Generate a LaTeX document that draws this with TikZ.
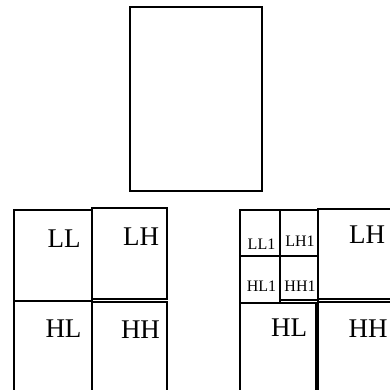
\documentclass[tikz,border=0pt]{standalone}
\usepackage{fontspec}
\setmainfont{Liberation Serif}
\begin{document}
\begin{tikzpicture}[x=1pt,y=-1pt,
  blk/.style={draw=black,line width=1.8pt},
  big/.style={font=\fontsize{27}{27}\selectfont,inner sep=0pt},
  small/.style={font=\fontsize{16}{16}\selectfont,inner sep=0pt}]
\clip (0,0) rectangle (390,389);
\fill[white] (0,0) rectangle (390,389);
% top image
\draw[blk] (130,7) rectangle (262,191);
% left decomposition
\draw[blk] (14,210) rectangle (92,301);
\draw[blk] (92,208) rectangle (167,299);
\draw[blk] (14,301) rectangle (92,400);
\draw[blk] (92,302) rectangle (167,400);
\node[big] (ll) at (64,239) {LL};
\node[big] (lh) at (141,237) {LH};
\node[big] (hl) at (63.5,329) {HL};
\node[big] (hh) at (140.5,330) {HH};
% right decomposition
\draw[blk] (240,210) rectangle (280,256);
\draw[blk] (280,210) rectangle (318,256);
\draw[blk] (240,256) rectangle (280,303);
\draw[blk] (280,256) rectangle (318,300);
\draw[blk] (318,209) rectangle (395,299);
\draw[blk] (240,303) rectangle (316,400);
\draw[blk] (318,302) rectangle (395,400);
\node[small] (ll1) at (261.5,244) {LL1};
\node[small] (lh1) at (300,241) {LH1};
\node[small] (hl1) at (261.5,286) {HL1};
\node[small] (hh1) at (300,286) {HH1};
\node[big] (lh2) at (367,235) {LH};
\node[big] (hl2) at (289,328) {HL};
\node[big] (hh2) at (368,329) {HH};
\end{tikzpicture}
\end{document}
